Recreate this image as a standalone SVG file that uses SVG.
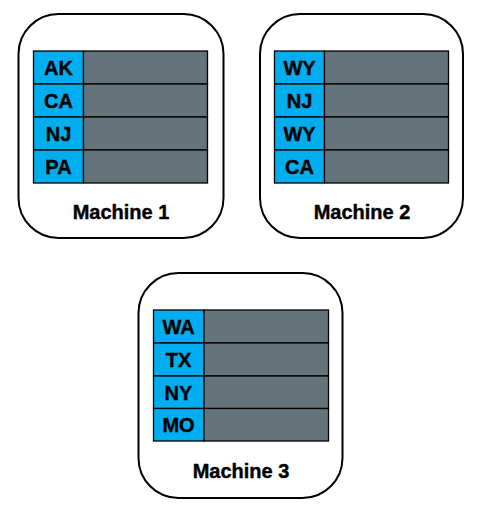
<svg xmlns="http://www.w3.org/2000/svg" width="488" height="523" viewBox="0 0 488 523">
<style>
.box{fill:#fff;stroke:#000;stroke-width:2}
.key{fill:#00aeef;stroke:#000;stroke-width:1.3}
.val{fill:#65737b;stroke:#000;stroke-width:1.3}
text{font-family:"Liberation Sans",Arial,sans-serif;font-weight:700;fill:#000;stroke:#000;stroke-width:0.4;text-anchor:middle}
.k{font-size:20px}
.t{font-size:20px}
</style>
<rect width="488" height="523" fill="#fff"/>
<g id="machine1">
<rect class="box" x="18.5" y="14" width="205" height="224" rx="40" ry="40"/>
<rect class="key" x="33.5" y="51" width="50" height="33"/><rect class="val" x="83.5" y="51" width="124" height="33"/>
<rect class="key" x="33.5" y="84" width="50" height="33"/><rect class="val" x="83.5" y="84" width="124" height="33"/>
<rect class="key" x="33.5" y="117" width="50" height="33"/><rect class="val" x="83.5" y="117" width="124" height="33"/>
<rect class="key" x="33.5" y="150" width="50" height="33"/><rect class="val" x="83.5" y="150" width="124" height="33"/>
<text class="k" x="58.5" y="75">AK</text>
<text class="k" x="58.5" y="108">CA</text>
<text class="k" x="58.5" y="141">NJ</text>
<text class="k" x="58.5" y="174">PA</text>
<text class="t" x="121" y="218.5">Machine 1</text>
</g>
<g id="machine2">
<rect class="box" x="260" y="14" width="203" height="224" rx="40" ry="40"/>
<rect class="key" x="274.5" y="51" width="50" height="33"/><rect class="val" x="324.5" y="51" width="124" height="33"/>
<rect class="key" x="274.5" y="84" width="50" height="33"/><rect class="val" x="324.5" y="84" width="124" height="33"/>
<rect class="key" x="274.5" y="117" width="50" height="33"/><rect class="val" x="324.5" y="117" width="124" height="33"/>
<rect class="key" x="274.5" y="150" width="50" height="33"/><rect class="val" x="324.5" y="150" width="124" height="33"/>
<text class="k" x="299.5" y="75">WY</text>
<text class="k" x="299.5" y="108">NJ</text>
<text class="k" x="299.5" y="141">WY</text>
<text class="k" x="299.5" y="174">CA</text>
<text class="t" x="362" y="218.5">Machine 2</text>
</g>
<g id="machine3">
<rect class="box" x="138.5" y="273" width="204" height="225" rx="40" ry="40"/>
<rect class="key" x="153.5" y="310" width="50.5" height="33"/><rect class="val" x="204" y="310" width="124.5" height="33"/>
<rect class="key" x="153.5" y="343" width="50.5" height="33"/><rect class="val" x="204" y="343" width="124.5" height="33"/>
<rect class="key" x="153.5" y="376" width="50.5" height="32.5"/><rect class="val" x="204" y="376" width="124.5" height="32.5"/>
<rect class="key" x="153.5" y="408.5" width="50.5" height="32.5"/><rect class="val" x="204" y="408.5" width="124.5" height="32.5"/>
<text class="k" x="178.5" y="334">WA</text>
<text class="k" x="178.5" y="367">TX</text>
<text class="k" x="178.5" y="399.5">NY</text>
<text class="k" x="178.5" y="432">MO</text>
<text class="t" x="241" y="477.5">Machine 3</text>
</g>
<g id="connectors"/>
</svg>
